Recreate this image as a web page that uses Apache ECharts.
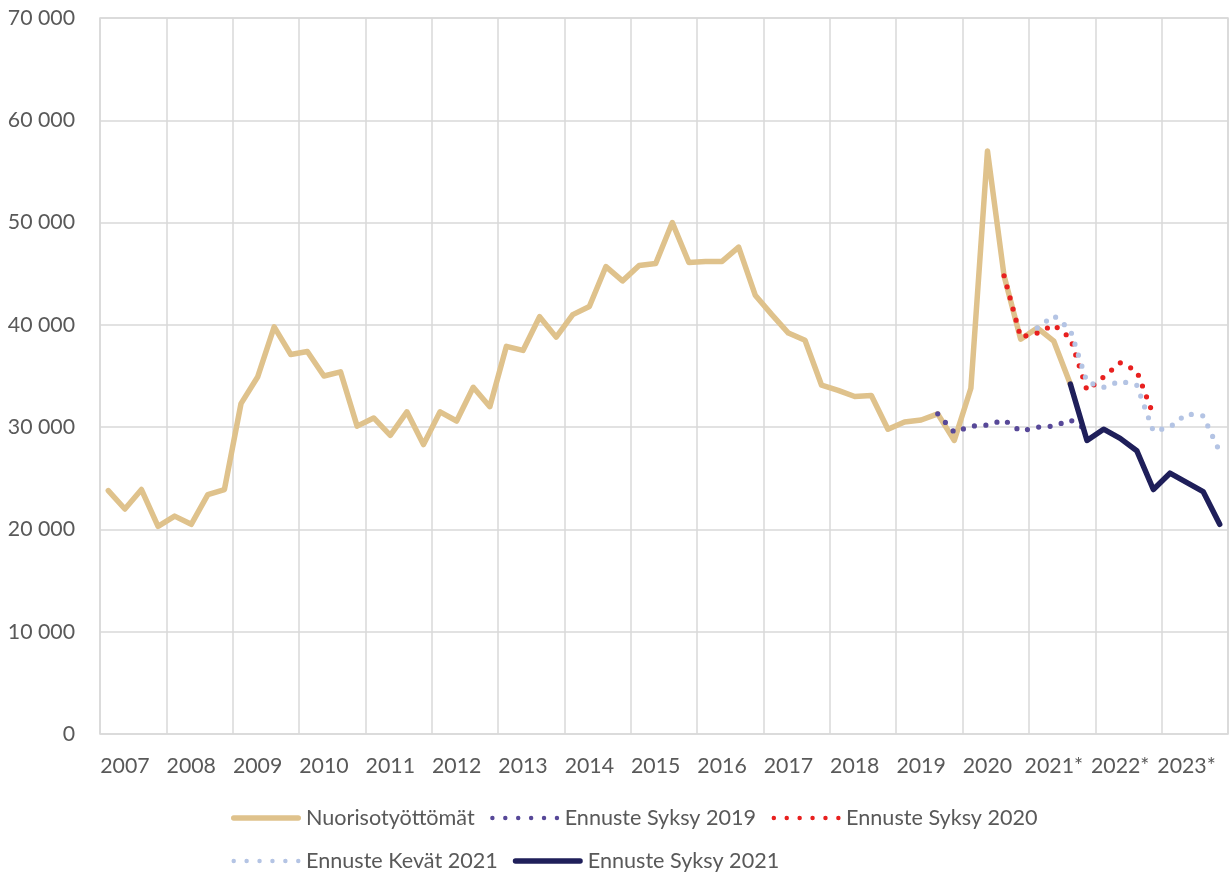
<!DOCTYPE html>
<html>
<head>
<meta charset="utf-8">
<script src="https://cdn.jsdelivr.net/npm/echarts@6/dist/echarts.min.js"></script>
<style>
  html, body { margin: 0; padding: 0; background: #fff; }
  #chart { width: 1230px; height: 879px; }
</style>
</head>
<body>
<div id="chart"></div>
<script>
// years on the x axis, four quarters each
const years = ['2007', '2008', '2009', '2010', '2011', '2012', '2013', '2014', '2015',
  '2016', '2017', '2018', '2019', '2020', '2021*', '2022*', '2023*'];
const quarters = years.flatMap(y => ['Q1', 'Q2', 'Q3', 'Q4'].map(q => y + ' ' + q));

// actual youth unemployment, 2007 Q1 .. 2021 Q3
const nuoriso = [
  23800, 22000, 23900, 20300,
  21300, 20500, 23400, 23900,
  32300, 34900, 39800, 37100,
  37400, 35000, 35400, 30100,
  30900, 29200, 31500, 28300,
  31500, 30600, 33900, 32000,
  37900, 37500, 40800, 38800,
  41000, 41800, 45700, 44300,
  45800, 46000, 50000, 46100,
  46200, 46200, 47600, 42900,
  41000, 39200, 38500, 34100,
  33600, 33000, 33100, 29800,
  30500, 30700, 31300, 28700,
  33800, 57000, 44800, 38600,
  39700, 38400, 34200
];
// forecasts: first quarter index and values
const syksy2019Start = 50;
const syksy2019 = [31300, 29500, 30100, 30200, 30700, 29600, 30000, 30100, 30700, 29700];
const syksy2020Start = 54;
const syksy2020 = [44800, 38800, 39200, 40000, 38700, 33600, 34900, 36300, 35500, 31200];
const kevat2021Start = 56;
const kevat2021 = [39700, 40900, 39500, 34400, 33900, 34500, 34100, 29600, 30000, 31300, 31100, 27600];
const syksy2021Start = 58;
const syksy2021 = [34200, 28700, 29800, 28900, 27700, 23900, 25500, 24600, 23700, 20500];

const yTicks = [0, 10000, 20000, 30000, 40000, 50000, 60000, 70000];

function place(start, vals) {
  const out = new Array(quarters.length).fill(null);
  vals.forEach((v, i) => { out[start + i] = v; });
  return out;
}

const textColor = '#595959';
const gridColor = '#d9d9d9';
const font = 'Lato';

// legend icons: a rounded bar and a row of six dots, 72 x 5.6
const barIcon = 'path://M2.8,0 L69.2,0 A2.8,2.8 0 0 1 69.2,5.6 L2.8,5.6 A2.8,2.8 0 0 1 2.8,0 Z';
let dotIcon = 'path://';
for (let k = 0; k < 6; k++) {
  const cx = 2.8 + k * 13.28;
  dotIcon += `M${cx - 2.3},2.8 A2.3,2.3 0 1 0 ${cx + 2.3},2.8 A2.3,2.3 0 1 0 ${cx - 2.3},2.8 Z `;
}
dotIcon += 'M0,0 M72,5.6';

function solid(name, data, color) {
  return {
    name, type: 'line', data, symbol: 'none', connectNulls: false,
    lineStyle: { color, width: 5.5, cap: 'round', join: 'round' },
    itemStyle: { color }
  };
}
function dotted(name, data, color) {
  return {
    name, type: 'line', data, symbol: 'none', connectNulls: false,
    lineStyle: { color, width: 5.2, type: [0, 11.5], cap: 'round' },
    itemStyle: { color }
  };
}

const chart = echarts.init(document.getElementById('chart'));
chart.setOption({
  animation: false,
  backgroundColor: '#fff',
  textStyle: { fontFamily: font },
  grid: {
    left: 100, right: 2, top: 18, bottom: 145,
    show: true, borderColor: gridColor, borderWidth: 1.5
  },
  xAxis: {
    type: 'category',
    data: quarters,
    boundaryGap: true,
    axisLine: { show: false },
    axisTick: { show: false },
    axisLabel: {
      interval: (i) => i % 4 === 1,
      formatter: v => v.split(' ')[0],
      color: textColor, fontSize: 21.3, fontFamily: font, margin: 22
    },
    splitLine: {
      show: true,
      interval: (i) => i % 4 === 0,
      lineStyle: { color: gridColor, width: 1.5 }
    }
  },
  yAxis: {
    type: 'value',
    min: yTicks[0], max: yTicks[yTicks.length - 1], interval: 10000,
    axisLine: { show: false },
    axisTick: { show: false },
    axisLabel: {
      formatter: v => String(v).replace(/\B(?=(\d{3})+(?!\d))/g, ' '),
      color: textColor, fontSize: 21.3, fontFamily: font, margin: 25
    },
    splitLine: { lineStyle: { color: gridColor, width: 1.5 } }
  },
  legend: {
    left: 226, top: 799, right: 140,
    itemWidth: 70, itemHeight: 5.6, itemGap: 15,
    symbolKeepAspect: true,
    textStyle: { color: textColor, fontSize: 21.6, fontFamily: font, lineHeight: 28 },
    data: [
      { name: 'Nuorisotyöttömät', icon: barIcon },
      { name: 'Ennuste Syksy 2019', icon: dotIcon },
      { name: 'Ennuste Syksy 2020', icon: dotIcon },
      { name: 'Ennuste Kevät 2021', icon: dotIcon },
      { name: 'Ennuste Syksy 2021', icon: barIcon }
    ]
  },
  series: [
    solid('Nuorisotyöttömät', place(0, nuoriso), '#dfc28c'),
    dotted('Ennuste Syksy 2019', place(syksy2019Start, syksy2019), '#574898'),
    dotted('Ennuste Syksy 2020', place(syksy2020Start, syksy2020), '#e8201f'),
    dotted('Ennuste Kevät 2021', place(kevat2021Start, kevat2021), '#b4c4e4'),
    solid('Ennuste Syksy 2021', place(syksy2021Start, syksy2021), '#1f1f5a')
  ]
});
</script>
</body>
</html>
